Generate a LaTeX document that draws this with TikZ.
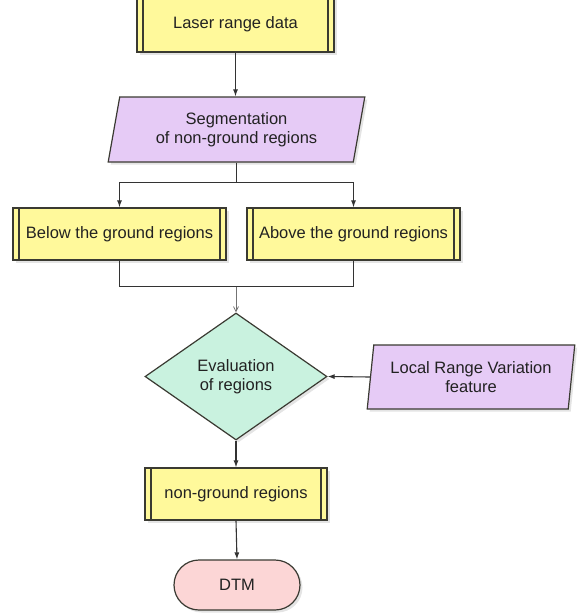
\documentclass[tikz,border=0pt]{standalone}
\usepackage{fontspec}
\setmainfont{Liberation Sans}
\usetikzlibrary{shapes.geometric,shapes.misc,arrows.meta,shadows}
\definecolor{boxline}{HTML}{3A3A32}
\definecolor{procfill}{HTML}{FFF99B}
\definecolor{iofill}{HTML}{E6CBF6}
\definecolor{decfill}{HTML}{C9F2DF}
\definecolor{endfill}{HTML}{FCD6D6}
\definecolor{txt}{HTML}{222222}
\definecolor{conncol}{HTML}{333333}
\tikzset{
  base/.style={draw=boxline, line width=1.2pt, text=txt, align=center,
    font=\fontsize{16.5}{19}\selectfont, inner sep=2pt,
    drop shadow={shadow xshift=2.5pt, shadow yshift=-2.5pt, fill=black!30, opacity=0.35}},
  procbox/.style={base, rectangle, fill=procfill,
    path picture={\draw[line width=1.2pt, boxline]
      ([xshift=6pt]path picture bounding box.north west) -- ([xshift=6pt]path picture bounding box.south west)
      ([xshift=-6pt]path picture bounding box.north east) -- ([xshift=-6pt]path picture bounding box.south east);}},
  iobox/.style={base, trapezium, fill=iofill, trapezium stretches=true},
  decbox/.style={base, diamond, fill=decfill, inner sep=0pt},
  endbox/.style={base, rounded rectangle, fill=endfill},
  conn/.style={draw=conncol, line width=1.1pt},
  arr/.style={conn, -{Latex[length=7pt,width=5pt]}},
  thinarr/.style={draw=black!55, line width=0.8pt, -{Straight Barb[length=5pt,width=5pt]}}
}
\begin{document}
\begin{tikzpicture}[x=1pt,y=-1pt]
\useasboundingbox (0,0) rectangle (579,616);
\node[procbox, minimum width=197pt, minimum height=56pt] (laser) at (235.5,24) {Laser range data};
\node[iobox, trapezium left angle=78, trapezium right angle=102, minimum width=257pt, minimum height=65pt] (seg) at (236.5,129.5) {Segmentation\\of non-ground regions};
\node[procbox, minimum width=213pt, minimum height=52pt] (below) at (119.5,234) {Below the ground regions};
\node[procbox, minimum width=213pt, minimum height=52pt] (above) at (353.5,234) {Above the ground regions};
\node[decbox, minimum width=182pt, minimum height=127pt] (eval) at (236,376.5) {Evaluation\\of regions};
\node[iobox, trapezium left angle=81, trapezium right angle=99, minimum width=208pt, minimum height=64pt] (lrv) at (471,377) {Local Range Variation\\feature};
\node[procbox, minimum width=182pt, minimum height=52pt] (ngr) at (236,494) {non-ground regions};
\node[endbox, minimum width=130pt, minimum height=50pt] (dtm) at (237,585) {DTM};

\draw[arr] (laser.south) -- (laser.south |- seg.north);
\path (seg.south) ++(0,20) coordinate (split);
\draw[conn] (seg.south) -- (split);
\draw[arr] (split) -| (below.north);
\draw[arr] (split) -| (above.north);
\path (below.south) ++(0,26) coordinate (mj);
\draw[conn] (below.south) -- (mj) -| (above.south);
\draw[thinarr] (mj -| eval.north) -- (eval.north);
\draw[arr] (lrv.west) -- (eval.east);
\draw[arr] (eval.south) -- (ngr.north);
\draw[arr] (ngr.south) -- (dtm.north);
\end{tikzpicture}
\end{document}
